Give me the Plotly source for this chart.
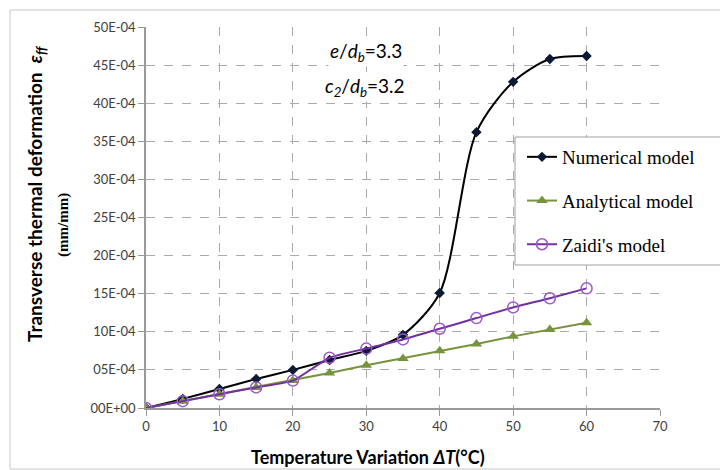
import plotly.graph_objects as go

temp = [0, 5, 10, 15, 20, 25, 30, 35, 40, 45, 50, 55, 60]
numerical = [0, 1.2, 2.5, 3.8, 5.0, 6.3, 7.5, 9.6, 15.1, 36.2, 42.8, 45.8, 46.2]
analytical = [0, 0.9, 1.8, 2.7, 3.6, 4.6, 5.6, 6.5, 7.5, 8.4, 9.4, 10.3, 11.2]
zaidi = [0, 0.9, 1.8, 2.7, 3.6, 6.6, 7.8, 9.0, 10.4, 11.8, 13.2, 14.4, 15.7]
scale = 1e-4
ytick_vals = [0, 5, 10, 15, 20, 25, 30, 35, 40, 45, 50]
ytick_text = ["00E+00", "05E-04", "10E-04", "15E-04", "20E-04", "25E-04",
              "30E-04", "35E-04", "40E-04", "45E-04", "50E-04"]
xtick_vals = [0, 10, 20, 30, 40, 50, 60, 70]

# page body has an 8px margin; plot area in screen px: x 146..660, y 27..408
OFF = 8
L, R, T, B = 146 - OFF, 660 - OFF, 27 - OFF, 408 - OFF
W, H = R - L, B - T


def px(xs):
    return (xs - OFF - L) / W


def py(ys):
    return (B - (ys - OFF)) / H


fig = go.Figure()
fig.add_trace(go.Scatter(
    x=temp, y=[v * scale for v in numerical], name="Numerical model",
    mode="lines+markers", line=dict(color="black", width=2, shape="spline", smoothing=0.8),
    marker=dict(symbol="diamond", size=8, color="#0a1a33"), legendgroup="a"))
fig.add_trace(go.Scatter(
    x=temp, y=[v * scale for v in analytical], name="Analytical model",
    mode="lines+markers", line=dict(color="#77933C", width=2),
    marker=dict(symbol="triangle-up", size=10, color="#77933C"), legendgroup="b"))
fig.add_trace(go.Scatter(
    x=temp, y=[v * scale for v in zaidi], name="Zaidi's model",
    mode="lines+markers", line=dict(color="#7030A0", width=2, shape="spline", smoothing=0.5),
    marker=dict(symbol="circle-open", size=11, color="#9b59c9", line=dict(width=1.5)), legendgroup="c"))

fig.update_layout(
    width=728, height=470,
    margin=dict(l=L, r=728 - R, t=T, b=470 - B),
    paper_bgcolor="white", plot_bgcolor="white",
    font=dict(family="Lato, Liberation Sans, sans-serif", color="#333333"),
    legend=dict(x=px(522), y=py(138), xanchor="left", yanchor="top",
                font=dict(family="Liberation Serif", size=19, color="black"),
                bgcolor="rgba(0,0,0,0)", borderwidth=0,
                tracegroupgap=16),
    showlegend=True,
)
fig.update_xaxes(range=[0, 70], tickvals=xtick_vals, showgrid=True,
                 gridcolor="#aaaaaa", griddash="dash", gridwidth=1,
                 showline=True, linecolor="#999999", linewidth=1.5,
                 ticks="outside", ticklen=6, tickcolor="#999999",
                 tickfont=dict(size=13, color="#404040"), zeroline=False)
fig.update_yaxes(range=[0, 50 * scale], tickvals=[v * scale for v in ytick_vals],
                 ticktext=ytick_text, showgrid=True,
                 gridcolor="#aaaaaa", griddash="dash", gridwidth=1,
                 showline=True, linecolor="#999999", linewidth=1.5,
                 ticks="outside", ticklen=6, tickcolor="#999999",
                 tickfont=dict(size=13, color="#404040"), zeroline=False)

# outer chart border
fig.add_shape(type="rect", xref="paper", yref="paper",
              x0=px(10), x1=px(726), y0=py(469), y1=py(10),
              line=dict(color="#c8c8c8", width=1), layer="below")
# legend frame (extends to the chart edge as in the reference)
fig.add_shape(type="rect", xref="paper", yref="paper",
              x0=px(515), x1=px(740), y0=py(265), y1=py(137),
              fillcolor="white", line=dict(color="#a0a0a0", width=1), layer="above")

ann = dict(xref="paper", yref="paper", showarrow=False, xanchor="center", yanchor="middle")
fig.add_annotation(text="Transverse thermal deformation  <i>ε<sub>ff</sub></i>",
                   x=px(36), y=py(194), textangle=-90,
                   font=dict(family="Lato, sans-serif", size=19, color="black", weight="bold"), **ann)
fig.add_annotation(text="<b>(mm/mm)</b>",
                   x=px(63), y=py(225), textangle=-90,
                   font=dict(family="Liberation Serif", size=15, color="black"), **ann)
fig.add_annotation(text="<b>Temperature Variation <i>ΔT</i>(°C)</b>",
                   x=px(368), y=py(457),
                   font=dict(family="Lato, sans-serif", size=18, color="black"), **ann)
fig.add_annotation(text="<i>e</i>/<i>d<sub>b</sub></i>=3.3",
                   x=px(366), y=py(52), bgcolor="white",
                   font=dict(family="Lato, sans-serif", size=19, color="black"), **ann)
fig.add_annotation(text="<i>c<sub>2</sub></i>/<i>d<sub>b</sub></i>=3.2",
                   x=px(365), y=py(87), bgcolor="white",
                   font=dict(family="Lato, sans-serif", size=19, color="black"), **ann)

fig.write_html("out.html")
